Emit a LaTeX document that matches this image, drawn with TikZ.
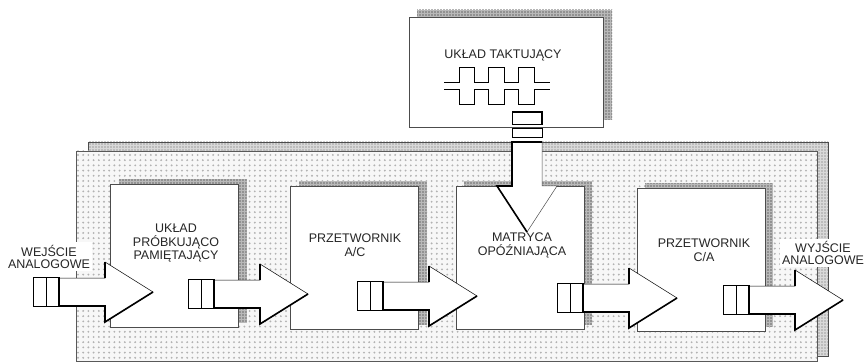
\documentclass[tikz,border=0pt]{standalone}
\usepackage{fontspec}
\setmainfont{Liberation Sans}
\usetikzlibrary{patterns.meta}
\tikzdeclarepattern{
  name=stip,
  type=uncolored,
  bounding box={(-2.6pt,-2.6pt) and (2.6pt,2.6pt)},
  tile size={(5.2pt,5.2pt)},
  code={\fill (0pt,0pt) circle (1.05pt);}
}
\tikzdeclarepattern{
  name=stiptwo,
  type=uncolored,
  bounding box={(-1.5pt,-1.5pt) and (1.5pt,1.5pt)},
  tile size={(3pt,3pt)},
  code={\fill (0pt,0pt) circle (0.8pt);}
}
\tikzset{
  frontpanel/.style={preaction={fill=gray!6}, pattern=stip, pattern color=gray!60, draw=gray!70!black, line width=0.6pt},
  backpanel/.style={preaction={fill=gray!30}, pattern=stiptwo, pattern color=gray!75, draw=gray!60!black, line width=0.6pt},
  shade/.style={preaction={fill=gray!55}, pattern=stiptwo, pattern color=gray!85!black},
  blk/.style={draw=gray!60!black, fill=white, line width=0.5pt, inner sep=0pt, outer sep=0pt},
  lbl/.style={align=center, font=\fontsize{12.5}{13.5}\selectfont, inner sep=1.5pt, text=black!85},
  iolbl/.style={lbl, fill=white, font=\fontsize{12.5}{12}\selectfont, inner sep=2.5pt},
  thin line/.style={line width=0.5pt, draw=black},
  thick edge/.style={line width=1.6pt, draw=black, line join=miter},
  harrow/.pic={
    \filldraw[fill=white, thin line] (0,-14.5) rectangle (13,14.5);
    \filldraw[fill=white, thin line] (13,-14.5) rectangle (26,14.5);
    \filldraw[fill=white, thin line] (26,-14) -- (72,-14) -- (72,-30) -- (120,0) -- (72,30) -- (72,14) -- (26,14) -- cycle;
    \draw[thick edge] (26,-14) -- (26,14) -- (72,14) -- (72,30) -- (120,0);
    \draw[thick edge, line width=1.1pt] (72,-14) -- (72,-30);
  }
}
\begin{document}
\begin{tikzpicture}[x=1pt,y=-1pt]
\useasboundingbox (0,0) rectangle (864,363);
% main panel
\path[backpanel] (88,142) rectangle (828,356);
\path[frontpanel] (76,151) rectangle (817,361);
% clock box
\path[shade] (417,10) rectangle (612,120);
\node[blk, minimum width=194pt, minimum height=110pt] (clk) at (506,72) {};
\node[lbl] (tclk) at (503,55) {UKŁAD TAKTUJĄCY};
\draw[thin line] (444,82) -- (459,82) -- (459,67) -- (474,67) -- (474,82) -- (488,82) -- (488,67) -- (504,67) -- (504,82) -- (518,82) -- (518,67) -- (534,67) -- (534,82) -- (550,82);
\draw[thin line] (444,89) -- (459,89) -- (459,104) -- (474,104) -- (474,89) -- (488,89) -- (488,104) -- (504,104) -- (504,89) -- (518,89) -- (518,104) -- (534,104) -- (534,89) -- (550,89);
% blocks with shadows
\path[shade] (118.5,179.5) rectangle (246.5,322.5);
\node[blk, minimum width=128pt, minimum height=143pt] (b1) at (174.5,256) {};
\path[shade] (298.5,181.5) rectangle (426.5,324.5);
\node[blk, minimum width=128pt, minimum height=143pt] (b2) at (354.5,258) {};
\path[shade] (464,181.5) rectangle (592,324.5);
\node[blk, minimum width=128pt, minimum height=143pt] (b3) at (520,258) {};
\path[shade] (645,183.5) rectangle (773,326.5);
\node[blk, minimum width=128pt, minimum height=143pt] (b4) at (701,260) {};
% clock feed arrow (down)
\filldraw[fill=white, thin line] (512,112) rectangle (542,124);
\draw[line width=1.2pt] (512,112) -- (542,112) -- (542,124);
\filldraw[fill=white, thin line] (512,128) rectangle (542,137);
\filldraw[fill=white, draw=gray!60!black, line width=0.5pt] (512,142) -- (512,186) -- (497,186) -- (527,232) -- (557,186) -- (542,186) -- (542,142) -- cycle;
\draw[thick edge] (542,142) -- (512,142) -- (512,186) -- (497,186) -- (527,232);
% signal arrows
\pic (a1) at (33,292) {harrow};
\pic (a2) at (188,294) {harrow};
\pic (a3) at (357,296) {harrow};
\pic (a4) at (557,298) {harrow};
\pic (a5) at (723,300) {harrow};
% labels
\node[lbl] (t1) at (176,243.5) {UKŁAD\\PRÓBKUJĄCO\\PAMIĘTAJĄCY};
\node[lbl] (t2) at (355,245) {PRZETWORNIK\\A/C};
\node[lbl] (t3) at (522,245.5) {MATRYCA\\OPÓŹNIAJĄCA};
\node[lbl] (t4) at (704,250) {PRZETWORNIK\\C/A};
\node[iolbl] (tin) at (49,256.5) {WEJŚCIE\\ANALOGOWE};
\node[iolbl] (tout) at (823,253) {WYJŚCIE\\ANALOGOWE};
\end{tikzpicture}
\end{document}
